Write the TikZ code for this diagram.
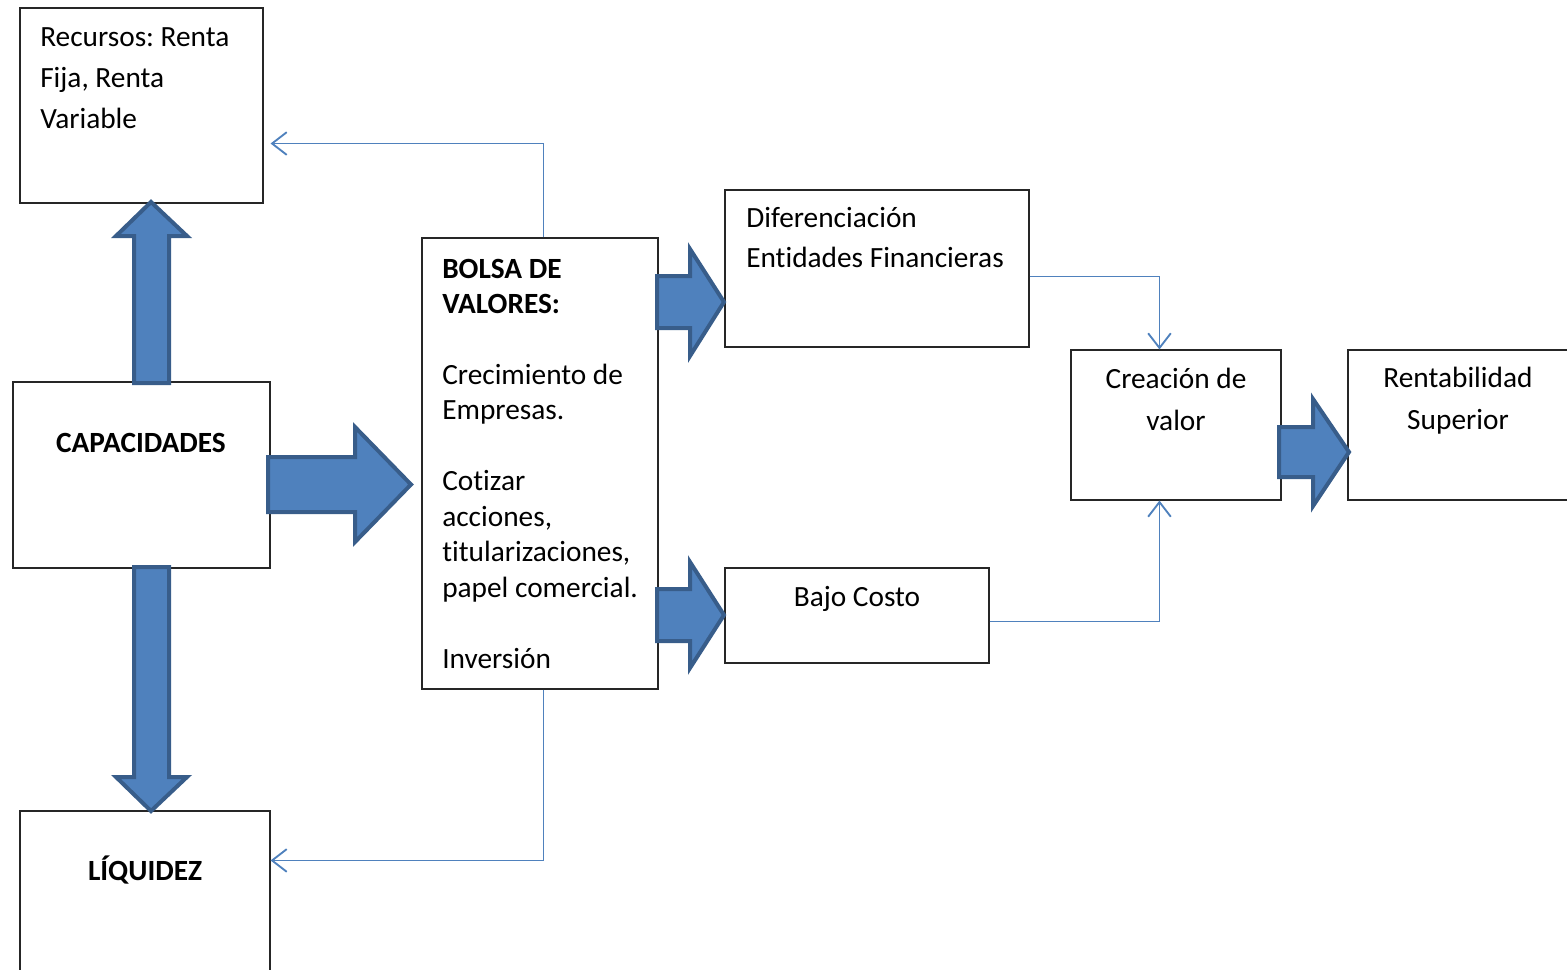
\documentclass[tikz,border=0pt]{standalone}
\usepackage{fontspec}
\setmainfont{Carlito}[Ligatures={NoCommon,NoContextual}]
\frenchspacing
\usetikzlibrary{arrows.meta,fit,calc}

\definecolor{arrowfill}{HTML}{4F81BD}
\definecolor{arrowedge}{HTML}{385D8A}
\definecolor{linkblue}{HTML}{4F81BD}

\tikzset{
  box/.style={draw=black!85, line width=0.8pt, rectangle, inner sep=0pt},
  blockarrow/.style={fill=arrowfill, draw=arrowedge, line width=3pt, line join=miter},
  link/.style={draw=linkblue, line width=1.4pt, -{Straight Barb[length=11pt,width=17pt,line width=1.4pt]}},
  txt/.style={anchor=base west, inner sep=0pt, font=\fontsize{22}{26}\selectfont},
  ctxt/.style={anchor=base, inner sep=0pt, font=\fontsize{22}{26}\selectfont},
}

\begin{document}
\begin{tikzpicture}[x=0.75pt, y=-0.75pt]
\useasboundingbox (0,0) rectangle (1567,970);
\clip (0,0) rectangle (1567,970);

% boxes
\node[box, fit={(20,8) (263,203)}] (rec) {};
\node[box, fit={(13,382) (270,568)}] (cap) {};
\node[box, fit={(20,811) (270,990)}] (liq) {};
\node[box, fit={(422,238) (658,689)}] (bolsa) {};
\node[box, fit={(725,190) (1029,347)}] (dif) {};
\node[box, fit={(725,568) (989,663)}] (bajo) {};
\node[box, fit={(1071,350) (1281,500)}] (crea) {};
\node[box, fit={(1348,350) (1590,500)}] (rent) {};

% texts
\node[txt] (trec) at (40,46.5) {\parbox[t]{300pt}{\fontsize{22}{30.8}\selectfont Recursos: Renta\\Fija, Renta\\Variable}};
\node[ctxt] (tcap) at (141,452) {\textbf{CAPACIDADES}};
\node[ctxt] (tliq) at (145,880) {\textbf{LÍQUIDEZ}};
\node[txt] (tbolsa) at (442,278) {\parbox[t]{300pt}{\fontsize{22}{26.6}\selectfont
  \textbf{BOLSA DE}\\\textbf{VALORES:}\\[26.6pt]Crecimiento de\\Empresas.\\[26.6pt]Cotizar\\acciones,\\titularizaciones,\\papel comercial.\\[26.6pt]Inversión}};
\node[txt] (tdif) at (746,228) {\parbox[t]{300pt}{\fontsize{22}{30}\selectfont Diferenciación\\Entidades Financieras}};
\node[ctxt] (tbajo) at (857,606) {Bajo Costo};
\node[ctxt] (tcrea) at (1176,388) {\parbox[t]{200pt}{\centering\fontsize{22}{31.5}\selectfont Creación de\\valor}};
\node[ctxt] (trent) at (1458,387) {\parbox[t]{200pt}{\centering\fontsize{22}{31.5}\selectfont Rentabilidad\\Superior}};

% thin connectors
\draw[link] ($(bolsa.north west)+(122,0)$) |- ($(rec.south east)+(7,-60)$);
\draw[link] ($(bolsa.south west)+(122,0)$) |- ($(liq.north east)+(0,50)$);
\draw[link] ($(dif.north east)+(0,87)$) -| ($(crea.north west)+(89,0)$);
\draw[link] ($(bajo.north east)+(0,54)$) -| ($(crea.south west)+(89,0)$);

% block arrows
% capacidades -> recursos (up)
\draw[blockarrow] (134,383) -- (134,236) -- (116,236) -- (151,202) -- (187,236) -- (169,236) -- (169,383) -- cycle;
% capacidades -> liquidez (down)
\draw[blockarrow] (134,567) -- (134,777) -- (116,777) -- (151,811) -- (187,777) -- (169,777) -- (169,567) -- cycle;
% capacidades -> bolsa
\draw[blockarrow] (268,457) -- (355,457) -- (355,427) -- (411,484.5) -- (355,542) -- (355,512) -- (268,512) -- cycle;
% bolsa -> diferenciacion
\draw[blockarrow] (657,276) -- (690,276) -- (690,249) -- (724,302) -- (690,356) -- (690,328) -- (657,328) -- cycle;
% bolsa -> bajo costo
\draw[blockarrow] (657,589) -- (690,589) -- (690,562) -- (724,615) -- (690,668) -- (690,641) -- (657,641) -- cycle;
% creacion -> rentabilidad
\draw[blockarrow] (1279,427) -- (1313,427) -- (1313,399) -- (1349,452) -- (1313,506) -- (1313,477) -- (1279,477) -- cycle;
\end{tikzpicture}
\end{document}
